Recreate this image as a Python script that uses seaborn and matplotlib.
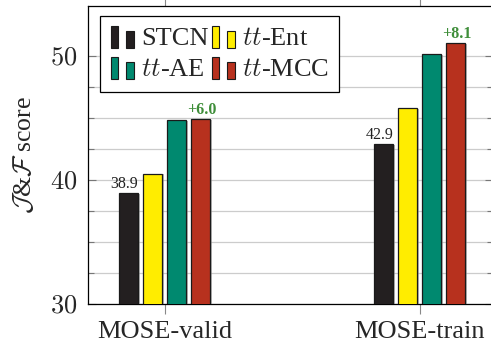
import numpy as np
import pandas as pd
import matplotlib
matplotlib.use("Agg")
import matplotlib.pyplot as plt
import seaborn as sns
from matplotlib.patches import Rectangle, Patch
from matplotlib.legend_handler import HandlerBase
import matplotlib.patheffects as pe

# ---- data ----
groups = ["MOSE-valid", "MOSE-train"]
methods = ["STCN", "$tt$-Ent", "$tt$-AE", "$tt$-MCC"]
stcn = [38.9, 42.9]
tt_ent = [40.5, 45.8]
tt_ae = [44.8, 50.1]
tt_mcc = [44.9, 51.0]
colors = ["#231F20", "#FFED00", "#00896F", "#B7311E"]

sns.set_style("ticks")
plt.rcParams["font.family"] = ["Liberation Serif", "DejaVu Serif"]
plt.rcParams["mathtext.fontset"] = "cm"

rows = []
for m, vals in zip(methods, [stcn, tt_ent, tt_ae, tt_mcc]):
    for g, v in zip(groups, vals):
        rows.append({"group": g, "method": m, "value": v})
df = pd.DataFrame(rows)

W, H = 491, 348
fig = plt.figure(figsize=(W / 100, H / 100), dpi=100)
ax = fig.add_axes([88 / W, (H - 304) / H, (493 - 88) / W, (304 - 6) / H])

sns.barplot(data=df, x="group", y="value", hue="method", hue_order=methods,
            order=groups, palette=colors, saturation=1, width=0.376, gap=0.2,
            edgecolor="#1a1a1a", linewidth=0.9, ax=ax, legend=False,
            errorbar=None, zorder=3)

for p in ax.patches:
    p.set_path_effects([pe.SimplePatchShadow(offset=(1.1, -0.5), shadow_rgbFace="#888888", alpha=0.6), pe.Normal()])

ax.set_xlim(-0.3, 1.288)
ax.set_ylim(30, 54)
ax.set_yticks([30, 40, 50])
ax.set_yticks(np.arange(32.5, 50, 2.5), minor=True)
ax.yaxis.set_major_formatter(matplotlib.ticker.FuncFormatter(lambda v, p: f"${v:.0f}$"))
ax.grid(axis="y", which="both", color="#cccccc", linewidth=0.9, zorder=0)
ax.set_axisbelow(True)

ax.tick_params(axis="y", which="both", direction="in", left=True, right=True,
               color="#777777", labelsize=19, pad=8)
ax.tick_params(axis="y", which="major", length=6, width=0.8)
ax.tick_params(axis="y", which="minor", length=4, width=0.8)
ax.tick_params(axis="x", direction="out", bottom=True, top=True, length=7,
               color="#888888", width=0.8, labelsize=19, pad=5)

for s in ["left", "bottom", "top"]:
    ax.spines[s].set_color("black")
    ax.spines[s].set_linewidth(0.9)
ax.spines["right"].set_visible(False)

ax.set_xlabel("")
ax.set_ylabel(r"$\mathcal{J}$&$\mathcal{F}$ score", fontsize=18.5)
ax.yaxis.set_label_coords(-0.128, 0.5)

# annotations
base_bars = ax.containers[0]
top_bars = ax.containers[3]
for i in range(len(groups)):
    b = base_bars[i]
    ax.annotate(f"{stcn[i]:.1f}", (b.get_x() + b.get_width() / 2, b.get_height()),
                xytext=(-3, 3.6), textcoords="offset points", ha="center", va="baseline",
                fontsize=11.5, color="#222222")
    t = top_bars[i]
    ax.annotate(f"+{tt_mcc[i] - stcn[i]:.1f}", (t.get_x() + t.get_width() / 2, t.get_height()),
                xytext=(0.8, 3.6), textcoords="offset points", ha="center", va="baseline",
                fontsize=11.5, color="#3F8E3A", fontweight="bold")


class TwoBarHandler(HandlerBase):
    def create_artists(self, legend, orig_handle, xdescent, ydescent, width, height,
                       fontsize, trans):
        fc = orig_handle.get_facecolor()
        x0 = -xdescent
        y0 = -ydescent - 0.15 * height
        w1 = width * 0.32
        w2 = width * 0.37
        r1 = Rectangle((x0, y0), w1, height * 1.2, facecolor=fc, edgecolor="#1a1a1a",
                       linewidth=0.8, transform=trans)
        r2 = Rectangle((x0 + width - w2, y0), w2, height * 0.92, facecolor=fc,
                       edgecolor="#1a1a1a", linewidth=0.8, transform=trans)
        return [r1, r2]


# legend filled row-wise: STCN, tt-Ent / tt-AE, tt-MCC
order = [0, 2, 1, 3]
handles = [Patch(facecolor=colors[i]) for i in order]
labels = [methods[i] for i in order]
leg = fig.legend(handles, labels, loc="upper left", bbox_to_anchor=(100 / W, 1 - 16 / H),
                 ncol=2, fontsize=19, frameon=True, fancybox=False, framealpha=1,
                 edgecolor="black", borderaxespad=0, borderpad=0.4,
                 handlelength=0.9, handleheight=0.7, handletextpad=0.25,
                 columnspacing=0.12, labelspacing=0.3,
                 handler_map={Patch: TwoBarHandler()})
leg.get_frame().set_linewidth(0.9)

fig.savefig("out.png", dpi=100)
